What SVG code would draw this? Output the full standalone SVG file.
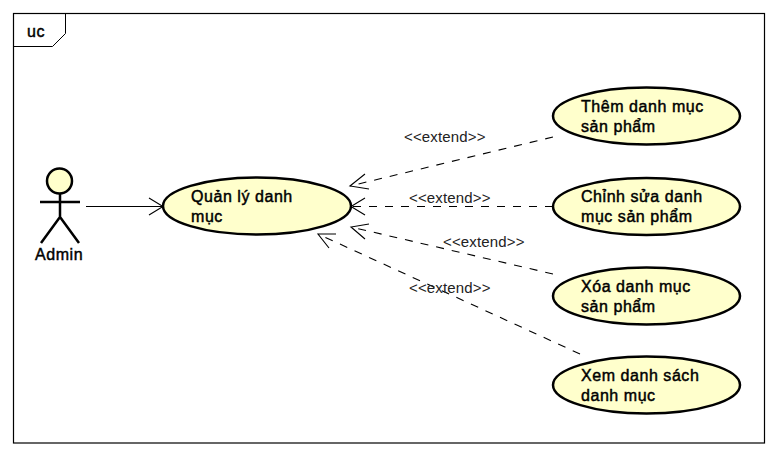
<svg xmlns="http://www.w3.org/2000/svg" width="777" height="457" viewBox="0 0 777 457">
<style>
text{font-family:"Liberation Sans",Arial,sans-serif;fill:#000}
.n{font-size:16px;letter-spacing:.55px;stroke:#000;stroke-width:.45px}
.l{font-size:15px;letter-spacing:.15px;fill:#222}
.u{fill:#ffffcc;stroke:#000;stroke-width:2.5}
.c{fill:none;stroke:#000;stroke-width:1.1}
.d{stroke-dasharray:8 8}
.a{fill:none;stroke:#000;stroke-width:1.1}
.s{fill:none;stroke:#000;stroke-width:2.5}
</style>
<rect width="777" height="457" fill="#fff"/>
<g id="frame">
<rect x="13.500" y="13.500" width="751" height="429.500" fill="#fff" stroke="#000" stroke-width="1.200"/>
<path d="M13.500 46.500H52.500L65.500 33.500V13.500" fill="none" stroke="#000" stroke-width="1"/>
<text x="27" y="37" class="n">uc</text>
</g>
<g id="connectors">
<path class="c" d="M86 206.500H163"/>
<path class="a" d="M149 198L163 206.500L149 215"/>
<path class="c d" d="M553 137L350 186"/>
<path class="a" d="M365 174L350 186L369 189"/>
<path class="c d" d="M553 206.500H351"/>
<path class="a" d="M365 198L351 206.500L365 215"/>
<path class="c d" d="M553 274L351 227"/>
<path class="a" d="M369 224L351 227L365 239"/>
<path class="c d" d="M580 354L318 234"/>
<path class="a" d="M336 234L318 234L329 248"/>
<text x="404" y="142" class="l">&lt;&lt;extend&gt;&gt;</text>
<text x="409" y="203" class="l">&lt;&lt;extend&gt;&gt;</text>
<text x="443" y="247" class="l">&lt;&lt;extend&gt;&gt;</text>
<text x="409" y="293" class="l">&lt;&lt;extend&gt;&gt;</text>
</g>
<g id="admin">
<circle cx="59.500" cy="181" r="12.500" class="u"/>
<path class="s" d="M60 193.500V217M40 202H80M60 217L41 243M60 217L79 243"/>
<text x="35" y="260" class="n">Admin</text>
</g>
<g id="uc-main">
<ellipse cx="257" cy="206" rx="94" ry="28.500" class="u"/>
<text x="191" y="202" class="n">Quản lý danh</text>
<text x="191" y="222" class="n">mục</text>
</g>
<g id="uc-them">
<ellipse cx="646.500" cy="116" rx="93.500" ry="28.500" class="u"/>
<text x="581" y="112" class="n">Thêm danh mục</text>
<text x="581" y="132" class="n">sản phẩm</text>
</g>
<g id="uc-chinh">
<ellipse cx="646.500" cy="206.500" rx="93.500" ry="28.500" class="u"/>
<text x="581" y="202" class="n">Chỉnh sửa danh</text>
<text x="581" y="222" class="n">mục sản phẩm</text>
</g>
<g id="uc-xoa">
<ellipse cx="646.500" cy="296" rx="93.500" ry="28.500" class="u"/>
<text x="581" y="292" class="n">Xóa danh mục</text>
<text x="581" y="312" class="n">sản phẩm</text>
</g>
<g id="uc-xem">
<ellipse cx="646.500" cy="385" rx="93.500" ry="28.500" class="u"/>
<text x="581" y="381" class="n">Xem danh sách</text>
<text x="581" y="401" class="n">danh mục</text>
</g>
</svg>
